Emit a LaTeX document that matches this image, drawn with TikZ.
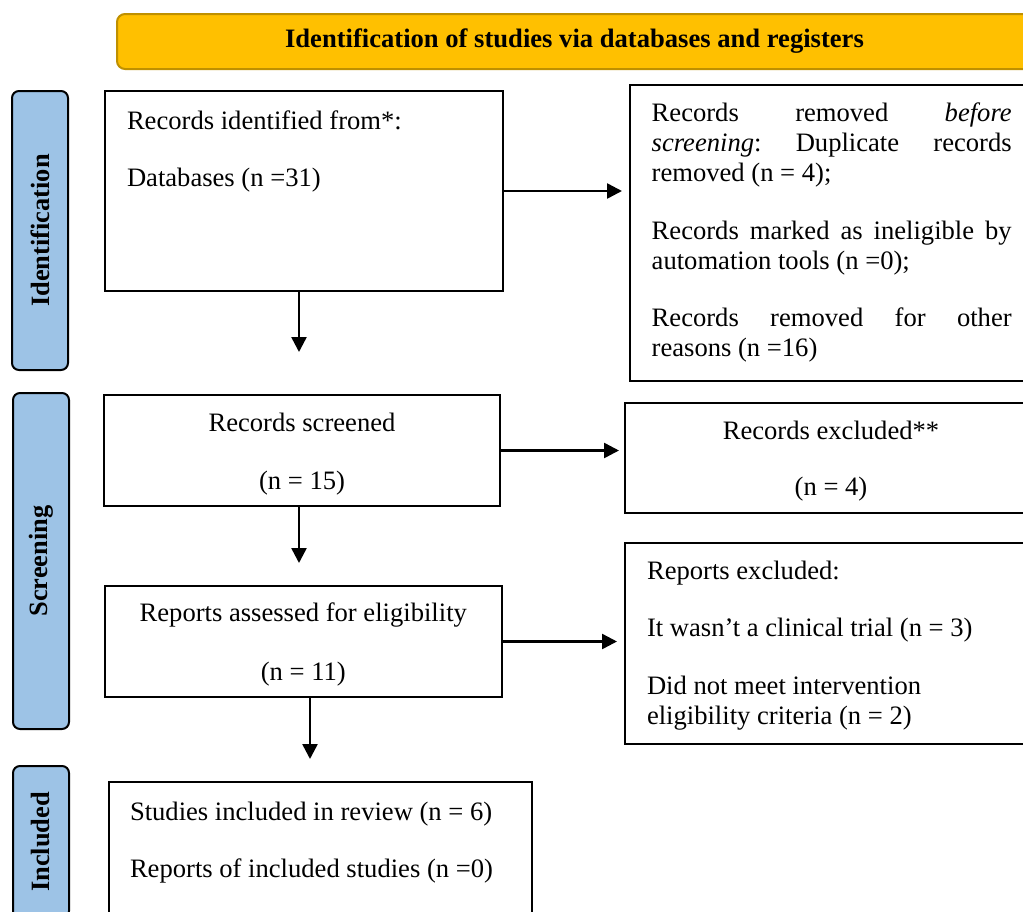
\documentclass[tikz,border=0pt]{standalone}
\usepackage{fontspec}
\setmainfont{Liberation Serif}
\usetikzlibrary{arrows.meta}
\definecolor{hdrfill}{HTML}{FFC000}
\definecolor{hdrline}{HTML}{BF9000}
\definecolor{sidefill}{HTML}{9DC3E6}
\newcommand\fixsp{\frenchspacing\spaceskip=0pt\relax\xspaceskip=0pt\relax}
\begin{document}
\begin{tikzpicture}[x=0.5pt,y=-0.5pt,
  every node/.style={font=\fontsize{13.3}{15}\selectfont, inner sep=0pt, outer sep=0pt},
  box/.style={draw=black, line width=1pt, rectangle},
  side/.style={draw=black, line width=1pt, fill=sidefill, rounded corners=3.5pt, font=\fontsize{13.2}{15}\selectfont\bfseries},
  hdr/.style={draw=hdrline, line width=1pt, fill=hdrfill, rounded corners=4pt, font=\fontsize{13.3}{15}\selectfont\bfseries},
  arr/.style={line width=1.25pt, -{Triangle[length=7.5pt,width=7.5pt]}},
  txt/.style={anchor=base west, align=left, text width=190pt},
  ctr/.style={anchor=base}]
\useasboundingbox (0,0) rectangle (1023,911);
\clip (0,0) rectangle (1023,911);

% header
\node[hdr, minimum width=457.5pt, minimum height=27.5pt] (hdr) at (574.5,41.5) {Identification of studies via databases and registers};

% side labels
\node[side, rotate=90, minimum width=139.5pt, minimum height=28pt] (lid) at (40,230.5) {Identification};
\node[side, rotate=90, minimum width=168pt, minimum height=28pt] (lscr) at (41,561) {Screening};
\node[side, rotate=90, minimum width=76pt, minimum height=28pt] (linc) at (41,842) {Included};

% boxes
\node[box, minimum width=199pt, minimum height=100pt] (id) at (304,191) {};
\node[box, minimum width=207.5pt, minimum height=148pt] (rem) at (837.5,233) {};
\node[box, minimum width=198pt, minimum height=55.5pt] (scr) at (302,450.5) {};
\node[box, minimum width=210pt, minimum height=55pt] (excl) at (835,458) {};
\node[box, minimum width=198.5pt, minimum height=55.5pt] (rep) at (303.5,641.5) {};
\node[box, minimum width=210pt, minimum height=100.5pt] (repex) at (835,643.5) {};
\node[box, minimum width=211.5pt, minimum height=74pt] (inc) at (320.5,856) {};

% texts
\node[txt] (tid) at (127,129) {\fixsp Records identified from*:\\[13.75pt]Databases (n =31)};
\node[txt] (trem) at (651.7,121.7) {\fixsp
\makebox[180pt][s]{Records removed \textit{before}}\\
\makebox[180pt][s]{\textit{screening}: Duplicate records}\\
removed (n = 4);\\[13.75pt]
\makebox[180pt][s]{Records marked as ineligible by}\\
automation tools (n =0);\\[13.75pt]
\makebox[180pt][s]{Records removed for other}\\
reasons (n =16)};
\node[ctr] (tscr1) at (302,431.7) {Records screened};
\node[ctr] (tscr2) at (302,489.3) {(n = 15)};
\node[ctr] (texc1) at (831,439.3) {Records excluded**};
\node[ctr] (texc2) at (831,495) {(n = 4)};
\node[ctr] (trep1) at (303.3,621.7) {Reports assessed for eligibility};
\node[ctr] (trep2) at (303.3,680) {(n = 11)};
\node[txt] (trepex) at (647,579) {\fixsp Reports excluded:\\[13.75pt]It wasn’t a clinical trial (n = 3)\\[13.75pt]Did not meet intervention\\eligibility criteria (n = 2)};
\node[txt] (tinc) at (130,820) {\fixsp Studies included in review (n = 6)\\[13.75pt]Reports of included studies (n =0)};

% connectors
\draw[arr, shorten >=4pt] (id.east) -- (id.east -| rem.west);
\draw[arr, shorten >=21.5pt] ([xshift=-2.5pt]id.south) -- ([xshift=-2.5pt]id.south |- scr.north);
\draw[arr, shorten >=3pt] (scr.east) -- (scr.east -| excl.west);
\draw[arr, shorten >=11.5pt] ([xshift=-1.5pt]scr.south) -- ([xshift=-1.5pt]scr.south |- rep.north);
\draw[arr, shorten >=4pt] (rep.east) -- (rep.east -| repex.west);
\draw[arr, shorten >=11.5pt] ([xshift=3.25pt]rep.south) -- ([xshift=3.25pt]rep.south |- inc.north);
\end{tikzpicture}
\end{document}
